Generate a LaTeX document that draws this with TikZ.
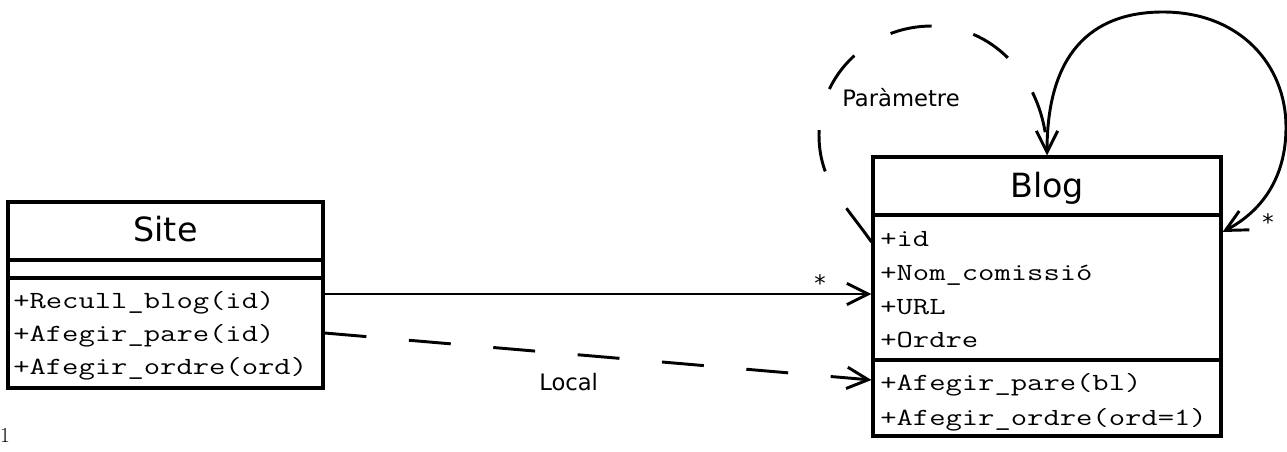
\documentclass[tikz,border=0pt]{standalone}
\usepackage{fontspec}
\newfontfamily\umlsans{DejaVu Sans}
\usetikzlibrary{arrows.meta,calc}
\newcommand\umlmember[1]{\scalebox{1.285}[1]{\ttfamily #1}}
\tikzset{
  classbox/.style={draw, line width=2.3pt, fill=white, inner sep=0pt},
  divider/.style={line width=2.3pt},
  titletext/.style={inner sep=0pt, anchor=base, font=\umlsans\fontsize{25}{28}\selectfont},
  membertext/.style={inner sep=0pt, anchor=base west, font=\fontsize{18.5}{21}\selectfont},
  labeltext/.style={inner sep=0pt, font=\umlsans\fontsize{17}{20}\selectfont},
  assoc/.style={line width=2.2pt, -{Straight Barb[length=16pt,width=16pt]}},
  depend/.style={line width=2.2pt, dash pattern=on 31.5pt off 32pt},
}
\begin{document}
\begin{tikzpicture}[x=0.75pt, y=-0.75pt]
\useasboundingbox (0,0) rectangle (1287,452);
\fill[white] (0,0) rectangle (1287,452);

% Site box
\node[classbox, minimum width=236.25pt, minimum height=139.5pt] (site) at (165.5,295) {};
% Blog box (first, for anchors)
\node[classbox, minimum width=261pt, minimum height=209.25pt] (blog) at (1047,296.5) {};

% dashed dependency arc (Parametre)
\coordinate (arcstart) at (blog.west |- 0,242);
\draw[depend] (arcstart) to[out=125, in=270] (819,135) to[out=90, in=180] (932,26) to[out=0, in=90] (blog.north);
% redraw blog box on top of the arc
\node[classbox, minimum width=261pt, minimum height=209.25pt] (blog) at (1047,296.5) {};

% self association loop
\coordinate (loopend) at (blog.east |- 0,232);
\draw[line width=2.2pt, {Straight Barb[length=16pt,width=16pt]}-{Straight Barb[length=16pt,width=16pt]}]
  (blog.north) .. controls (1047,55) and (1090,12) .. (1163,12)
  .. controls (1240,12) and (1286,65) .. (1286,127)
  .. controls (1286,180) and (1260,212) .. (loopend);

% Site dividers
\draw[divider] (site.west |- 0,260) -- (site.east |- 0,260);
\draw[divider] (site.west |- 0,278) -- (site.east |- 0,278);
% Blog dividers
\draw[divider] (blog.west |- 0,215) -- (blog.east |- 0,215);
\draw[divider] (blog.west |- 0,360) -- (blog.east |- 0,360);

% titles
\node[titletext] (sitetitle) at (165.5,242) {Site};
\node[titletext] (blogtitle) at (1047,198) {Blog};

% Site operations
\node[membertext] (sop1) at (13,308) {\umlmember{+Recull\_blog(id)}};
\node[membertext] (sop2) at (13,341) {\umlmember{+Afegir\_pare(id)}};
\node[membertext] (sop3) at (13,374) {\umlmember{+Afegir\_ordre(ord)}};

% Blog attributes
\node[membertext] (bat1) at (880,247) {\umlmember{+id}};
\node[membertext] (bat2) at (880,280) {\umlmember{+Nom\_comissió}};
\node[membertext] (bat3) at (880,314) {\umlmember{+URL}};
\node[membertext] (bat4) at (880,347) {\umlmember{+Ordre}};
% Blog operations
\node[membertext] (bop1) at (880,390) {\umlmember{+Afegir\_pare(bl)}};
\node[membertext] (bop2) at (880,425) {\umlmember{+Afegir\_ordre(ord=1)}};

% associations between classes
\coordinate (s1) at (site.east |- 0,294);
\coordinate (b1) at (blog.west |- 0,294);
\draw[assoc] (s1) -- (b1);
\coordinate (s2) at (site.east |- 0,333);
\coordinate (b2) at (blog.west |- 0,380);
\coordinate (b2a) at ($(s2)!0.93!(b2)$);
\draw[depend] (s2) -- (b2a);
\draw[assoc] (b2a) -- (b2);

% labels
\node[labeltext, anchor=base west] (lparam) at (842,107) {Paràmetre};
\node[labeltext, anchor=base west] (llocal) at (539,390) {Local};
\node[labeltext] (lstar1) at (820,283) {*};
\node[labeltext] (lstar2) at (1268,222) {*};
\node[inner sep=0pt, font=\fontsize{16}{18}\selectfont] (pagenum) at (5,435) {1};
\end{tikzpicture}
\end{document}
